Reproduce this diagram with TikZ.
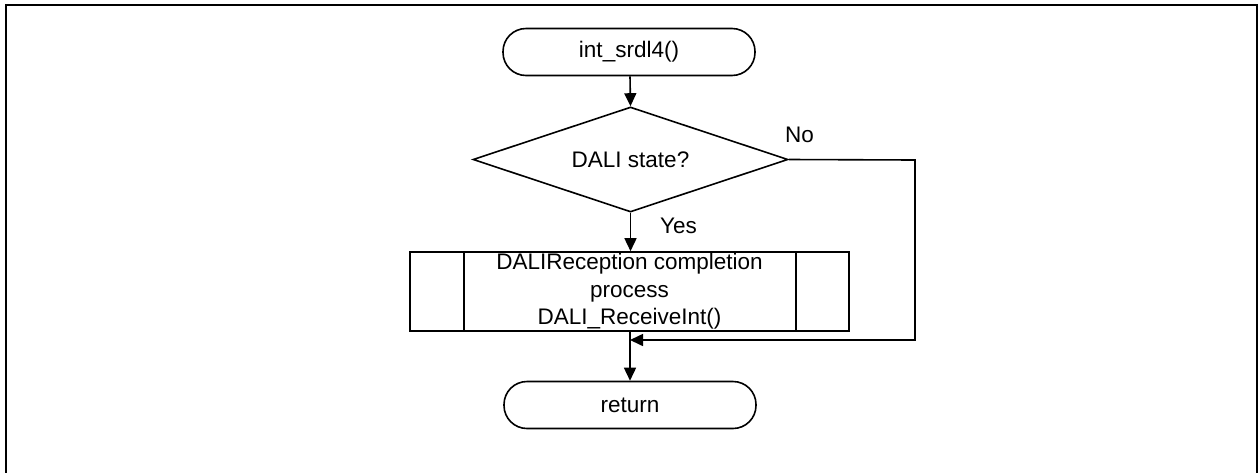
\documentclass[tikz,border=0pt]{standalone}
\usepackage{fontspec}
\setmainfont{Liberation Sans}
\usetikzlibrary{arrows.meta,shapes.geometric,positioning}
\begin{document}
\begin{tikzpicture}[x=1pt,y=-1pt,
  every node/.style={font=\fontsize{22.5}{27.5}\selectfont},
  line/.style={line width=1.6pt},
  arr/.style={line, -{Triangle[length=13pt,width=12pt]}},
  term/.style={draw, line width=1.6pt, rounded corners=23pt, minimum width=252pt, minimum height=47pt, inner sep=0pt},
  dec/.style={draw, line width=1.6pt, diamond, aspect=3, minimum width=315pt, minimum height=105pt, inner sep=0pt},
  proc/.style={draw, line width=1.6pt, minimum width=439pt, minimum height=79pt, inner sep=0pt, align=center},
  lbl/.style={inner sep=0pt}]
\useasboundingbox (0,0) rectangle (1258,472);
\draw[line width=1.8pt] (6,475) -- (6,5) -- (1257,5) -- (1257,475);
\node[term] (start) at (629,52) {int\_srdl4()};
\node[dec] (dec) at (630.5,159.5) {DALI state?};
\node[proc] (proc) at (629.5,291.5) {DALIReception completion\\process\\DALI\_ReceiveInt()};
\draw[line width=1.6pt] (proc.north west -| 464,0) coordinate (a) (464,252) -- (464,331) (796,252) -- (796,331);
\node[term] (ret) at (630,405) {return};
\coordinate (c1) at (915,160);
\coordinate (c2) at (915,340);
\coordinate (m) at (630,340);
\draw[arr] (start.south -| 630,0) -- (dec.north);
\draw[arr] (dec.south) -- (proc.north -| dec.south);
\draw[arr] (proc.south -| 630,0) -- (ret.north);
\draw[arr] (dec.east) -- (c1) -- (c2) -- (m);
\node[lbl, anchor=west] (no) at (785,135) {No};
\node[lbl, anchor=west] (yes) at (660,226) {Yes};
\end{tikzpicture}
\end{document}
